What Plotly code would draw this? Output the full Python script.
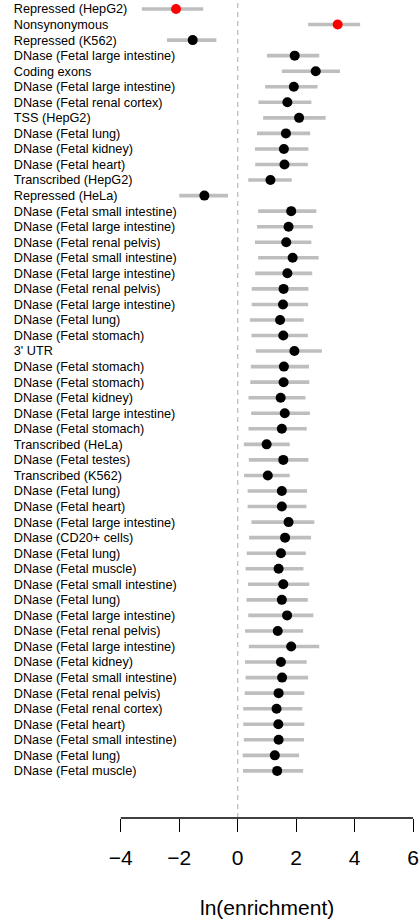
import plotly.graph_objects as go

# Annotation categories, ordered by enrichment significance (top = strongest)
labels = [
    "Repressed (HepG2)", "Nonsynonymous", "Repressed (K562)",
    "DNase (Fetal large intestine)", "Coding exons",
    "DNase (Fetal large intestine)", "DNase (Fetal renal cortex)",
    "TSS (HepG2)", "DNase (Fetal lung)", "DNase (Fetal kidney)",
    "DNase (Fetal heart)", "Transcribed (HepG2)", "Repressed (HeLa)",
    "DNase (Fetal small intestine)", "DNase (Fetal large intestine)",
    "DNase (Fetal renal pelvis)", "DNase (Fetal small intestine)",
    "DNase (Fetal large intestine)", "DNase (Fetal renal pelvis)",
    "DNase (Fetal large intestine)", "DNase (Fetal lung)",
    "DNase (Fetal stomach)", "3' UTR", "DNase (Fetal stomach)",
    "DNase (Fetal stomach)", "DNase (Fetal kidney)",
    "DNase (Fetal large intestine)", "DNase (Fetal stomach)",
    "Transcribed (HeLa)", "DNase (Fetal testes)", "Transcribed (K562)",
    "DNase (Fetal lung)", "DNase (Fetal heart)",
    "DNase (Fetal large intestine)", "DNase (CD20+ cells)",
    "DNase (Fetal lung)", "DNase (Fetal muscle)",
    "DNase (Fetal small intestine)", "DNase (Fetal lung)",
    "DNase (Fetal large intestine)", "DNase (Fetal renal pelvis)",
    "DNase (Fetal large intestine)", "DNase (Fetal kidney)",
    "DNase (Fetal small intestine)", "DNase (Fetal renal pelvis)",
    "DNase (Fetal renal cortex)", "DNase (Fetal heart)",
    "DNase (Fetal small intestine)", "DNase (Fetal lung)",
    "DNase (Fetal muscle)",
]

# ln(enrichment) point estimates
estimate = [
    -2.11, 3.42, -1.54, 1.95, 2.67, 1.92, 1.70, 2.10, 1.65, 1.58,
    1.60, 1.12, -1.14, 1.83, 1.74, 1.66, 1.88, 1.70, 1.57, 1.55,
    1.45, 1.56, 1.94, 1.58, 1.57, 1.47, 1.61, 1.51, 0.99, 1.56,
    1.03, 1.51, 1.51, 1.74, 1.62, 1.48, 1.40, 1.56, 1.51, 1.69,
    1.37, 1.83, 1.48, 1.52, 1.40, 1.33, 1.39, 1.40, 1.27, 1.35,
]

# Lower and upper interval bounds
lower = [
    -3.28, 2.41, -2.42, 1.00, 1.51, 0.94, 0.71, 0.87, 0.66, 0.59,
    0.60, 0.36, -2.00, 0.70, 0.66, 0.59, 0.70, 0.60, 0.48, 0.48,
    0.42, 0.47, 0.62, 0.45, 0.43, 0.37, 0.46, 0.37, 0.21, 0.38,
    0.22, 0.34, 0.34, 0.47, 0.39, 0.31, 0.27, 0.35, 0.30, 0.36,
    0.25, 0.38, 0.25, 0.27, 0.24, 0.19, 0.19, 0.21, 0.17, 0.18,
]
upper = [
    -1.18, 4.19, -0.73, 2.79, 3.50, 2.73, 2.52, 3.01, 2.48, 2.42,
    2.40, 1.85, -0.33, 2.69, 2.57, 2.52, 2.77, 2.55, 2.42, 2.41,
    2.26, 2.40, 2.88, 2.44, 2.45, 2.32, 2.47, 2.36, 1.78, 2.42,
    1.78, 2.37, 2.35, 2.62, 2.51, 2.33, 2.25, 2.45, 2.40, 2.59,
    2.24, 2.79, 2.36, 2.41, 2.28, 2.21, 2.28, 2.27, 2.10, 2.24,
]

# Categories flagged as significant
significant = [True, True] + [False] * 48

tick_vals = [-4, -2, 0, 2, 4, 6]
tick_text = ["\u22124", "\u22122", "0", "2", "4", "6"]
x_title = "ln(enrichment)"

rows = list(range(1, len(labels) + 1))
FONT = "Liberation Sans, Arial, Helvetica, sans-serif"

fig = go.Figure()

# Interval segments
seg_x, seg_y = [], []
for r, lo, hi in zip(rows, lower, upper):
    seg_x += [lo, hi, None]
    seg_y += [r, r, None]
fig.add_trace(go.Scatter(
    x=seg_x, y=seg_y, mode="lines",
    line=dict(color="#BEBEBE", width=3.6),
    hoverinfo="skip", showlegend=False,
))

# Point estimates
fig.add_trace(go.Scatter(
    x=estimate, y=rows, mode="markers",
    marker=dict(size=10, color=["#FF0000" if s else "#000000" for s in significant],
                line=dict(width=0)),
    showlegend=False,
))

# Row labels, left aligned
LABEL_X = -7.66
fig.add_trace(go.Scatter(
    x=[LABEL_X] * len(labels), y=[r + 0.08 for r in rows], mode="text",
    text=labels, textposition="middle right",
    textfont=dict(family=FONT, size=12.7, color="#000000"),
    hoverinfo="skip", showlegend=False,
))

# Reference line at zero
fig.add_shape(type="line", xref="x", yref="paper", x0=0, x1=0, y0=0, y1=1,
              line=dict(color="#BEBEBE", width=1.3, dash="5px,4px"), layer="below")

# Axis baseline spanning the tick range only
fig.add_shape(type="line", xref="x", yref="paper",
              x0=tick_vals[0], x1=tick_vals[-1], y0=0, y1=0,
              line=dict(color="#000000", width=1.3))

fig.add_annotation(
    x=(tick_vals[0] + tick_vals[-1]) / 2, xref="x",
    y=-0.109, yref="paper", yanchor="middle",
    text=x_title, showarrow=False,
    font=dict(family=FONT, size=21, color="#000000"),
)

fig.update_layout(
    width=420, height=923,
    margin=dict(l=0, r=0, t=0, b=105),
    paper_bgcolor="#FFFFFF", plot_bgcolor="#FFFFFF",
    font=dict(family=FONT, color="#000000"),
    xaxis=dict(
        range=[-8.132, 6.237], showgrid=False, zeroline=False, showline=False,
        tickmode="array", tickvals=tick_vals, ticktext=tick_text,
        ticks="outside", ticklen=13, tickwidth=1.3, tickcolor="#000000",
        ticklabelstandoff=8,
        tickfont=dict(family=FONT, size=21, color="#000000"),
    ),
    yaxis=dict(
        range=[53.03, 0.421], showgrid=False, zeroline=False, showline=False,
        showticklabels=False, ticks="",
    ),
)

fig.write_html("out.html")
